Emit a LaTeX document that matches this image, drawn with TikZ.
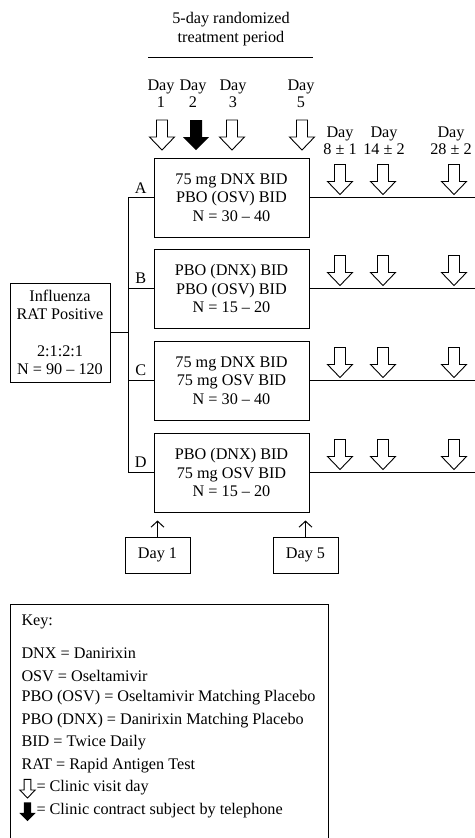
\documentclass[tikz,border=0pt]{standalone}
\usepackage{fontspec}
\setmainfont{Liberation Serif}
\usetikzlibrary{arrows.meta, positioning}
\tikzset{
	arm/.style     ={rectangle, draw=black, line width=1pt, minimum width=155pt, minimum height=79pt, align=center, inner sep=0pt},
	daylbl/.style  ={align=center, font=\fontsize{16.2}{17}\selectfont},
	daybox/.style  ={rectangle, draw=black, line width=1pt, minimum width=65pt, minimum height=36pt},
	keyline/.style ={anchor=west},
	dayarrow/.style={-{Straight Barb[length=6pt, width=13pt]}, line width=1pt},
	% block arrows for visits
	visit/.pic     ={\draw[line width=0.9pt, fill=white, line join=miter] (-5.5,-30) -- (5.5,-30) -- (5.5,-13) -- (12.5,-13) -- (0,0) -- (-12.5,-13) -- (-5.5,-13) -- cycle;},
	phone/.pic     ={\fill[black] (-6,-30) -- (6,-30) -- (6,-13) -- (13,-13) -- (0,0) -- (-13,-13) -- (-6,-13) -- cycle;},
}
\begin{document}
\begin{tikzpicture}[x=1pt, y=-1pt, line width=1pt,
		every node/.style={font=\fontsize{16.2}{18.4}\selectfont, inner sep=0pt}]
	\useasboundingbox (0,0) rectangle (474,838);
	% treatment period
	\node[align=center] (title) at (231,29) {5-day randomized\\treatment period};
	\coordinate (tl) at (148,57); \coordinate (tr) at (313,57);
	\draw (tl) -- (tr);
	\node[daylbl] (d1) at (161,93.5) {Day\\1};
	\node[daylbl] (d2) at (193,93.5) {Day\\2};
	\node[daylbl] (d3) at (233,93.5) {Day\\3};
	\node[daylbl] (d5) at (301,93.5) {Day\\5};
	\pic at (162,150) {visit}; \pic at (196,150) {phone}; \pic at (232,150) {visit}; \pic at (302,150) {visit};
	\node[daylbl] (d8) at (340,141) {Day\\8 ± 1};
	\node[daylbl] (d14) at (384,141) {Day\\14 ± 2};
	\node[daylbl] (d28) at (451,141) {Day\\28 ± 2};
	\coordinate (c8) at (340,0); \coordinate (c14) at (383,0); \coordinate (c28) at (454,0);
	\coordinate (spine) at (128,0); \coordinate (rim) at (480,0);
	% arms
	\node[arm] (armA) at (231.5,197.5) {75 mg DNX BID\\PBO (OSV) BID\\N = 30 -- 40};
	\node[arm, below=11pt of armA] (armB) {PBO (DNX) BID\\PBO (OSV) BID\\N = 15 -- 20};
	\node[arm, below=12pt of armB] (armC) {75 mg DNX BID\\75 mg OSV BID\\N = 30 -- 40};
	\node[arm, below=12pt of armC] (armD) {PBO (DNX) BID\\75 mg OSV BID\\N = 15 -- 20};
	\node[arm, minimum width=100pt, minimum height=99pt] (rat) at (60,332.5) {Influenza\\RAT Positive\\[18pt]2:1:2:1\\N = 90 -- 120};
	\draw (rat.east) -- (rat.east -| spine);
	\draw (armA.west) -- (armA.west -| spine) -- (armD.west -| spine) -- (armD.west);
	\draw (armB.west) -- (armB.west -| spine); \draw (armC.west) -- (armC.west -| spine);
	\path (armA.west -| spine) -- (armA.west) node[midway, above=4pt] (lA) {A};
	\path (armB.west -| spine) -- (armB.west) node[midway, above=4pt] (lB) {B};
	\path (armC.west -| spine) -- (armC.west) node[midway, above=4pt] (lC) {C};
	\path (armD.west -| spine) -- (armD.west) node[midway, above=4pt] (lD) {D};
	\foreach \a in {armA, armB, armC, armD} {
		\draw (\a.east) -- (\a.east -| rim);
		\foreach \c in {c8, c14, c28}
			\pic at ([yshift=3pt]\a.east -| \c) {visit};
	}
	% day 1 / day 5
	\node[daybox] (s1) at (157.5,555) {Day 1};
	\node[daybox] (s5) at (305.5,555) {Day 5};
	\draw[dayarrow] (s1.north) -- ([yshift=-8pt]armD.south -| s1);
	\draw[dayarrow] (s5.north) -- ([yshift=-8pt]armD.south -| s5);
	% key
	\node[draw, line width=1pt, minimum width=318pt, minimum height=236pt, anchor=north west] (key) at (10,604) {};
	\node[keyline] (k0) at (21,622) {Key:};
	\foreach \txt [count=\i] in {DNX = Danirixin, OSV = Oseltamivir, PBO (OSV) = Oseltamivir Matching Placebo,
			PBO (DNX) = Danirixin Matching Placebo, BID = Twice Daily, RAT = Rapid Antigen Test}
		\node[keyline] (k\i) at (21,630.5+22.5*\i) {\txt};
	\pic[scale=0.62] at (27.5,798) {visit};
	\node[keyline] (k7) at (36,788) {= Clinic visit day};
	\pic[scale=0.62] at (27.5,821) {phone};
	\node[keyline] (k8) at (36,810.5) {= Clinic contract subject by telephone};
\end{tikzpicture}
\end{document}
